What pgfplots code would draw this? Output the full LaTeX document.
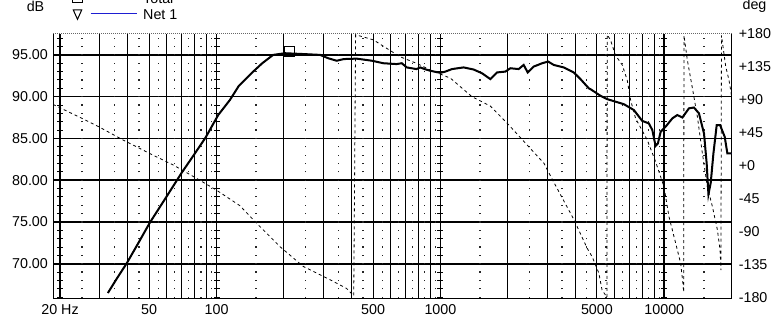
\documentclass[border=0pt]{standalone}
\usepackage{pgfplots}
\usepackage{pgfplotstable}
\pgfplotsset{compat=1.18}
\usepackage{fontspec}
\setmainfont{Liberation Sans}
\newcommand\lf{\fontsize{14.3bp}{16bp}\selectfont}
\definecolor{netblue}{RGB}{30,30,210}

\pgfplotstableread{
f db
32.7 66.5
36 68.3
39.8 70.1
45 72.6
50.3 74.9
60 78.1
69.7 80.85
80 83.2
89.3 85.1
101.7 87.8
114.7 89.6
125.8 91.3
145.8 93.0
160 94.0
179 95.0
202 95.2
244 95.1
290 95.0
315 94.6
344 94.3
370 94.5
423 94.55
494 94.3
556 94.0
637 93.9
672 94.0
707 93.5
782 93.3
812 93.5
850 93.3
900 93.1
1000 92.85
1052 93.0
1126 93.3
1269 93.5
1406 93.25
1534 92.8
1671 92.1
1790 92.9
1950 93.0
2052 93.4
2236 93.3
2354 93.8
2453 92.9
2610 93.6
2846 94.0
3027 94.2
3206 93.8
3555 93.5
3940 92.9
4222 92.1
4598 91.0
4680 90.9
5190 90.1
5560 89.7
6595 89.1
7310 88.4
7970 87.1
8530 86.8
8840 86.0
9140 84.1
9360 84.4
9630 85.8
10130 86.4
10860 87.4
11430 87.8
12040 87.5
12880 88.6
13560 88.7
14280 88.0
15040 85.6
15460 82.0
15740 78.3
16120 79.7
16570 83.2
17140 86.6
17740 86.6
18610 85.2
19130 83.2
20000 83.2
}\magtable

\pgfplotstableread{
f deg
18.6 84
24.5 66.4
30 53
38.2 35.5
53 13.6
64 1.4
81.4 -16.8
100 -33
127 -54
151 -78
192 -110
244 -137
321 -155
381 -167
410 -177
418 179
502 172
575 160.5
660 149
782 140
900 131
1110 119.6
1383 94.5
1670 81.8
2020 56
2440 28.6
2900 3.7
3200 -21.4
3540 -46.4
3930 -72
4520 -112
4760 -123.7
5100 -146
5270 -169
5540 -179
5560 179
5750 171.8
6050 151
6490 137.7
6830 117
7070 90
7440 65
8390 35.5
9140 6
9960 -28
10490 -69
11230 -105
11830 -132.7
12110 -160
12200 -172
12240 178
12670 144.5
13350 106
14050 67.2
14790 17.3
15570 -28
16400 -55.5
17270 -87.3
17740 -114.5
17900 -142
18000 178
18810 135.5
19450 117
20000 94.5
}\phasetable

\begin{document}
\begin{tikzpicture}
\path[use as bounding box] (0,0) rectangle (774bp,326bp);
% grid and dB labels
\begin{axis}[at={(53bp,28bp)}, anchor=south west, scale only axis,
  width=678.7bp, height=264bp, xmode=log, xmin=18.6, xmax=20000,
  ymin=65.9, ymax=97.5, clip=false,
  axis line style={draw=none}, major tick length=0pt, minor tick length=0pt,
  xtick={20,30,40,50,60,70,80,90,100,200,300,400,500,600,700,800,900,1000,2000,3000,4000,5000,6000,7000,8000,9000,10000,20000},
  xticklabels={20 Hz,,,50,,,,,100,,,,500,,,,,1000,,,,5000,,,,,10000,},
  ytick={70,75,80,85,90,95},
  yticklabels={70.00,75.00,80.00,85.00,90.00,95.00},
  xmajorgrids, ymajorgrids,
  grid style={black, line width=1bp},
  xticklabel style={font=\lf, yshift=-2.8bp},
  yticklabel style={font=\lf, xshift=-1.6bp},
]
\pgfplotsinvokeforeach{70,75,80,85,90,95}{
  \draw[black, line width=1.6bp] (axis cs:18.6,#1) -- (axis cs:20000,#1);
}
\pgfplotsinvokeforeach{25,35,45,55,65,75,85,95,150,250,350,450,550,650,750,850,950,1500,2500,3500,4500,5500,6500,7500,8500,9500,15000}{
  \draw[black!85, line width=1.6bp, dash pattern=on 1.2bp off 7.1544bp] (axis cs:#1,65.93) -- (axis cs:#1,97.3);
}
\pgfplotsinvokeforeach{20,100,1000,10000}{
  \draw[black, line width=1.7bp] (axis cs:#1,65.9) -- (axis cs:#1,97.5);
  \draw[black, line width=6bp, dash pattern=on 0.9bp off 7.4544bp] (axis cs:#1,65.95) -- (axis cs:#1,97.3);
}
\draw[black, line width=1bp] (rel axis cs:0,1) -- (rel axis cs:0,0) -- (rel axis cs:1,0) -- (rel axis cs:1,1);
\draw[black!60, line width=1bp, dash pattern=on 1bp off 1bp] (rel axis cs:0,1) -- (rel axis cs:1,1);
\end{axis}
% phase
\begin{axis}[at={(53bp,28bp)}, anchor=south west, scale only axis,
  width=678.7bp, height=264bp, xmode=log, xmin=18.6, xmax=20000,
  ymin=-180, ymax=180, hide x axis, axis y line*=right,
  axis line style={draw=none}, major tick length=0pt, minor tick length=0pt,
  ytick={-180,-135,-90,-45,0,45,90,135,180},
  yticklabels={-180,-135,-90,-45,+0,+45,+90,+135,+180},
  yticklabel style={font=\lf, anchor=west, xshift=3.6bp},
]
\addplot[black, line width=0.8bp, dash pattern=on 3bp off 3bp] table[x=f,y=deg] {\phasetable};
\end{axis}
% magnitude
\begin{axis}[at={(53bp,28bp)}, anchor=south west, scale only axis,
  width=678.7bp, height=264bp, xmode=log, xmin=18.6, xmax=20000,
  ymin=65.9, ymax=97.5, hide axis]
\addplot[netblue, line width=0.8bp] table[x=f,y=db] {\magtable};
\addplot[black, line width=2bp] table[x=f,y=db] {\magtable};
\addplot[black, only marks, mark=square, mark size=5.2bp, line width=0.8bp] coordinates {(211.7,95.4)};
\end{axis}
% legend and unit labels
\node[font=\lf, anchor=base] at (35.5bp,314.3bp) {dB};
\node[font=\lf, anchor=base] at (754.5bp,316bp) {deg};
\draw[black, line width=1bp] (72bp,323.3bp) rectangle (82bp,333.3bp);
\draw[black, line width=1bp] (90.7bp,328bp) -- (136.7bp,328bp);
\node[font=\lf, anchor=base west, inner sep=0] at (143bp,322.7bp) {Total};
\draw[black, line width=1bp] (73.3bp,316bp) -- (81.7bp,316bp) -- (77.5bp,306.7bp) -- cycle;
\draw[netblue, line width=1bp] (90.7bp,312bp) -- (136.7bp,312bp);
\node[font=\lf, anchor=base west, inner sep=0] at (143bp,306.5bp) {Net 1};
\end{tikzpicture}
\end{document}
